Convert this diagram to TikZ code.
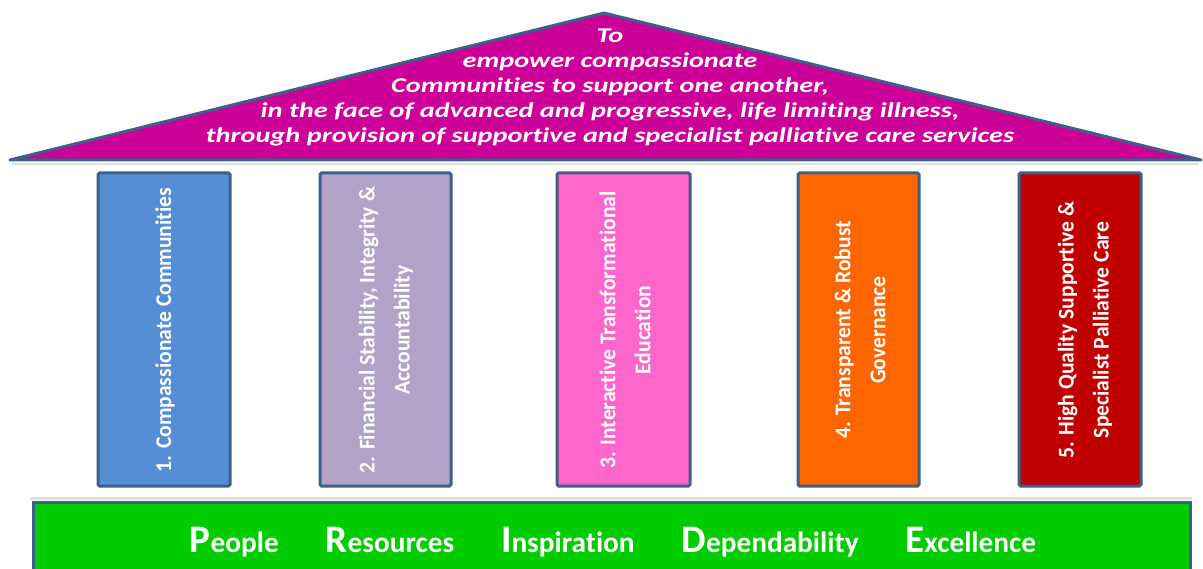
\documentclass[tikz,border=0pt]{standalone}
\usepackage{fontspec}
\setmainfont[Ligatures=NoCommon]{Carlito}
\newfontfamily\pillarfont[FakeStretch=0.96,Ligatures=NoCommon]{Carlito}
\newfontfamily\rooffont[FakeStretch=1.35,Ligatures=NoCommon]{Carlito}
\definecolor{edge}{HTML}{3E5F8A}
\definecolor{roof}{HTML}{CC0099}
\definecolor{pA}{HTML}{558ED5}
\definecolor{pB}{HTML}{B3A2C7}
\definecolor{pC}{HTML}{FF66CC}
\definecolor{pD}{HTML}{FF6600}
\definecolor{pE}{HTML}{C00000}
\definecolor{base}{HTML}{00CC00}
\tikzset{
  pillar/.style={draw=edge, line width=3pt, rounded corners=1.5pt},
  ptext/.style={text=white, rotate=90, align=center, font=\pillarfont\bfseries\fontsize{22.5}{35}\selectfont, inner sep=0pt},
}
\newcommand{\capletter}[1]{{\fontsize{39}{39}\selectfont #1}}
\begin{document}
\begin{tikzpicture}[x=1pt,y=-1pt]
\useasboundingbox (0,0) rectangle (1203,569);
% roof
\coordinate (apex) at (604,13);
\coordinate (rl) at (10,160);
\coordinate (rr) at (1201,160);
\fill[gray!25] (12,163) -- (1199,163) -- (1199,165) -- (12,165) -- cycle;
\filldraw[fill=roof, draw=edge, line width=3pt, line join=round] (apex) -- (rr) -- (rl) -- cycle;
\node[text=white, align=center, font=\rooffont\bfseries\itshape\fontsize{21}{25}\selectfont, inner sep=0pt] (roofText) at (610,87)
{To\\empower compassionate\\Communities to support one another,\\in the face of advanced and progressive, life limiting illness,\\through provision of supportive and specialist palliative care services};
% pillars
\filldraw[pillar, fill=pA] (98,173) rectangle (230,486);
\filldraw[pillar, fill=pB] (320,173) rectangle (451,486);
\filldraw[pillar, fill=pC] (557,173) rectangle (690,486);
\filldraw[pillar, fill=pD] (798,173) rectangle (919,486);
\filldraw[pillar, fill=pE] (1019,173) rectangle (1141,486);
\node[ptext] (t1) at (165,330) {1. Compassionate Communities};
\node[ptext] (t2) at (386,330) {2. Financial Stability, Integrity \&\\Accountability};
\node[ptext] (t3) at (625,330) {3. Interactive Transformational\\Education};
\node[ptext] (t4) at (860,330) {4. Transparent \& Robust\\Governance};
\node[ptext] (t5) at (1085,330) {5. High Quality Supportive \&\\Specialist Palliative  Care};
% base
\fill[gray!25] (30,497) rectangle (1192,500);
\filldraw[fill=base, draw=edge, line width=3pt] (33,571) -- (33,502) -- (1190,502) -- (1190,571);
\node[text=white, font=\bfseries\fontsize{29.3}{30}\selectfont, inner sep=0pt, anchor=base] (values) at (613,552)
{\capletter{P}eople\hspace{1.6em}\capletter{R}esources\hspace{1.6em}\capletter{I}nspiration\hspace{1.6em}\capletter{D}ependability\hspace{1.6em}\capletter{E}xcellence};
\end{tikzpicture}
\end{document}
